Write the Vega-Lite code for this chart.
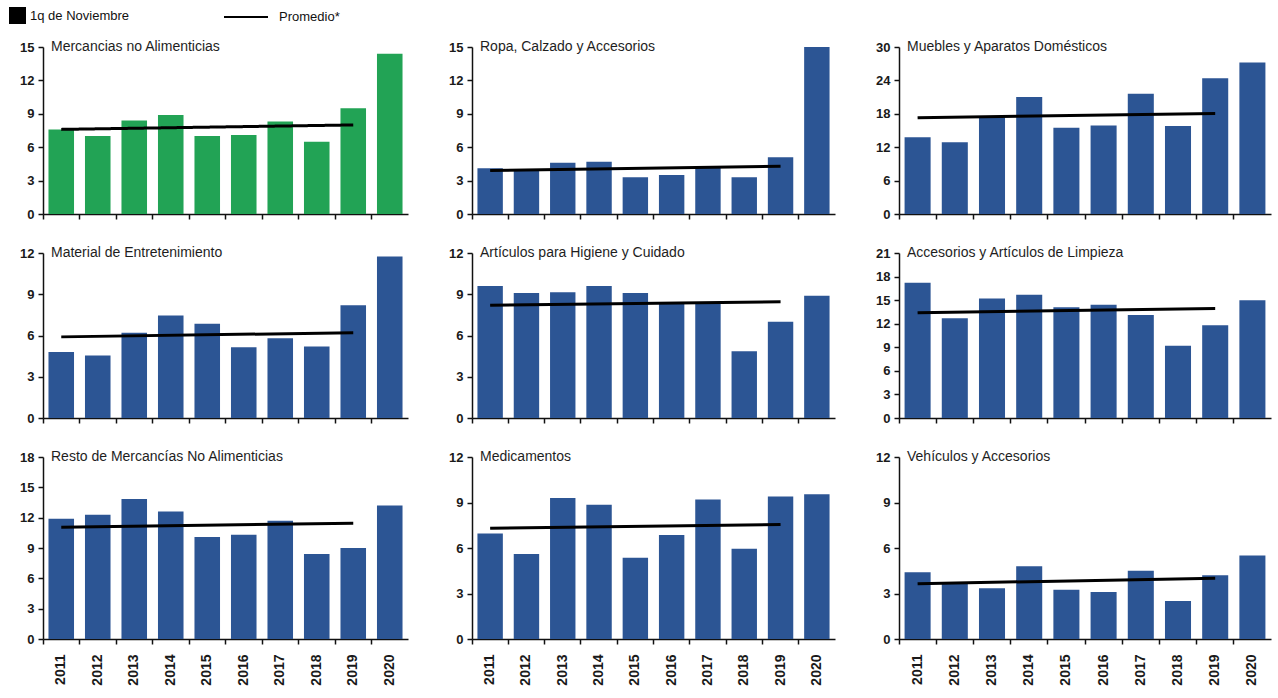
{
  "$schema": "https://vega.github.io/schema/vega-lite/v6.json",
  "padding": {"left": 9, "top": 5, "right": 3, "bottom": 2},
  "background": "white",
  "datasets": {
    "barras": [
      {"panel": "P1", "year": 2011, "value": 7.6}, {"panel": "P1", "year": 2012, "value": 7.0}, {"panel": "P1", "year": 2013, "value": 8.4}, {"panel": "P1", "year": 2014, "value": 8.9}, {"panel": "P1", "year": 2015, "value": 7.0}, {"panel": "P1", "year": 2016, "value": 7.1}, {"panel": "P1", "year": 2017, "value": 8.3}, {"panel": "P1", "year": 2018, "value": 6.5}, {"panel": "P1", "year": 2019, "value": 9.5}, {"panel": "P1", "year": 2020, "value": 14.4},
      {"panel": "P2", "year": 2011, "value": 4.1}, {"panel": "P2", "year": 2012, "value": 4.0}, {"panel": "P2", "year": 2013, "value": 4.6}, {"panel": "P2", "year": 2014, "value": 4.7}, {"panel": "P2", "year": 2015, "value": 3.3}, {"panel": "P2", "year": 2016, "value": 3.5}, {"panel": "P2", "year": 2017, "value": 4.3}, {"panel": "P2", "year": 2018, "value": 3.3}, {"panel": "P2", "year": 2019, "value": 5.1}, {"panel": "P2", "year": 2020, "value": 15.0},
      {"panel": "P3", "year": 2011, "value": 13.8}, {"panel": "P3", "year": 2012, "value": 12.9}, {"panel": "P3", "year": 2013, "value": 17.4}, {"panel": "P3", "year": 2014, "value": 21.0}, {"panel": "P3", "year": 2015, "value": 15.5}, {"panel": "P3", "year": 2016, "value": 15.9}, {"panel": "P3", "year": 2017, "value": 21.6}, {"panel": "P3", "year": 2018, "value": 15.8}, {"panel": "P3", "year": 2019, "value": 24.4}, {"panel": "P3", "year": 2020, "value": 27.2},
      {"panel": "P4", "year": 2011, "value": 4.8}, {"panel": "P4", "year": 2012, "value": 4.55}, {"panel": "P4", "year": 2013, "value": 6.2}, {"panel": "P4", "year": 2014, "value": 7.45}, {"panel": "P4", "year": 2015, "value": 6.85}, {"panel": "P4", "year": 2016, "value": 5.15}, {"panel": "P4", "year": 2017, "value": 5.8}, {"panel": "P4", "year": 2018, "value": 5.2}, {"panel": "P4", "year": 2019, "value": 8.2}, {"panel": "P4", "year": 2020, "value": 11.75},
      {"panel": "P5", "year": 2011, "value": 9.6}, {"panel": "P5", "year": 2012, "value": 9.1}, {"panel": "P5", "year": 2013, "value": 9.15}, {"panel": "P5", "year": 2014, "value": 9.6}, {"panel": "P5", "year": 2015, "value": 9.1}, {"panel": "P5", "year": 2016, "value": 8.35}, {"panel": "P5", "year": 2017, "value": 8.4}, {"panel": "P5", "year": 2018, "value": 4.85}, {"panel": "P5", "year": 2019, "value": 7.0}, {"panel": "P5", "year": 2020, "value": 8.9},
      {"panel": "P6", "year": 2011, "value": 17.2}, {"panel": "P6", "year": 2012, "value": 12.7}, {"panel": "P6", "year": 2013, "value": 15.2}, {"panel": "P6", "year": 2014, "value": 15.7}, {"panel": "P6", "year": 2015, "value": 14.1}, {"panel": "P6", "year": 2016, "value": 14.4}, {"panel": "P6", "year": 2017, "value": 13.1}, {"panel": "P6", "year": 2018, "value": 9.2}, {"panel": "P6", "year": 2019, "value": 11.8}, {"panel": "P6", "year": 2020, "value": 15.0},
      {"panel": "P7", "year": 2011, "value": 11.9}, {"panel": "P7", "year": 2012, "value": 12.3}, {"panel": "P7", "year": 2013, "value": 13.85}, {"panel": "P7", "year": 2014, "value": 12.6}, {"panel": "P7", "year": 2015, "value": 10.1}, {"panel": "P7", "year": 2016, "value": 10.3}, {"panel": "P7", "year": 2017, "value": 11.7}, {"panel": "P7", "year": 2018, "value": 8.4}, {"panel": "P7", "year": 2019, "value": 9.0}, {"panel": "P7", "year": 2020, "value": 13.2},
      {"panel": "P8", "year": 2011, "value": 6.95}, {"panel": "P8", "year": 2012, "value": 5.6}, {"panel": "P8", "year": 2013, "value": 9.3}, {"panel": "P8", "year": 2014, "value": 8.85}, {"panel": "P8", "year": 2015, "value": 5.35}, {"panel": "P8", "year": 2016, "value": 6.85}, {"panel": "P8", "year": 2017, "value": 9.2}, {"panel": "P8", "year": 2018, "value": 5.95}, {"panel": "P8", "year": 2019, "value": 9.4}, {"panel": "P8", "year": 2020, "value": 9.55},
      {"panel": "P9", "year": 2011, "value": 4.4}, {"panel": "P9", "year": 2012, "value": 3.75}, {"panel": "P9", "year": 2013, "value": 3.35}, {"panel": "P9", "year": 2014, "value": 4.8}, {"panel": "P9", "year": 2015, "value": 3.25}, {"panel": "P9", "year": 2016, "value": 3.1}, {"panel": "P9", "year": 2017, "value": 4.5}, {"panel": "P9", "year": 2018, "value": 2.5}, {"panel": "P9", "year": 2019, "value": 4.2}, {"panel": "P9", "year": 2020, "value": 5.5}
    ],
    "promedio": [
      {"panel": "P1", "year": 2011, "value": 7.6}, {"panel": "P1", "year": 2019, "value": 8.0},
      {"panel": "P2", "year": 2011, "value": 3.9}, {"panel": "P2", "year": 2019, "value": 4.3},
      {"panel": "P3", "year": 2011, "value": 17.3}, {"panel": "P3", "year": 2019, "value": 18.05},
      {"panel": "P4", "year": 2011, "value": 5.9}, {"panel": "P4", "year": 2019, "value": 6.2},
      {"panel": "P5", "year": 2011, "value": 8.2}, {"panel": "P5", "year": 2019, "value": 8.45},
      {"panel": "P6", "year": 2011, "value": 13.4}, {"panel": "P6", "year": 2019, "value": 13.95},
      {"panel": "P7", "year": 2011, "value": 11.05}, {"panel": "P7", "year": 2019, "value": 11.45},
      {"panel": "P8", "year": 2011, "value": 7.3}, {"panel": "P8", "year": 2019, "value": 7.55},
      {"panel": "P9", "year": 2011, "value": 3.65}, {"panel": "P9", "year": 2019, "value": 4.0}
    ]
  },
  "columns": 3,
  "align": "each",
  "spacing": {"row": 25, "column": 30},
  "concat": [
    {
      "width": 365, "height": 167,
      "title": {"text": "Mercancias  no Alimenticias"},
      "layer": [
        {"data": {"name": "barras"}, "transform": [{"filter": "datum.panel === 'P1'"}],
         "mark": {"type": "bar", "width": {"band": 0.7}},
         "encoding": {
           "x": {"field": "year", "type": "ordinal", "scale": {"paddingInner": 0, "paddingOuter": 0}, "axis": {"labels": false}},
           "y": {"field": "value", "type": "quantitative", "scale": {"domain": [0, 15], "nice": false}, "axis": {"values": [0, 3, 6, 9, 12, 15], "tickCount": 20, "format": "d"}},
           "color": {"field": "panel", "type": "nominal", "scale": {"range": ["#22a355"]}, "legend": null},
           "opacity": {"datum": "1q de Noviembre", "type": "nominal", "scale": {"range": [1]},
             "legend": {"orient": "none", "legendX": -34, "legendY": -40, "title": null, "symbolType": "square", "symbolFillColor": "#000000", "symbolStrokeColor": "#000000", "symbolStrokeWidth": 0, "symbolOpacity": 1, "symbolSize": 289, "labelFontSize": 13, "labelFont": "Liberation Sans", "labelColor": "#111111", "labelOffset": 4, "padding": 0}}
         }},
        {"data": {"name": "promedio"}, "transform": [{"filter": "datum.panel === 'P1'"}],
         "mark": {"type": "line", "color": "#000000", "strokeWidth": 3},
         "encoding": {
           "x": {"field": "year", "type": "ordinal"},
           "y": {"field": "value", "type": "quantitative"},
           "strokeDash": {"datum": "Promedio*", "type": "nominal", "scale": {"range": [[1, 0]]},
             "legend": {"orient": "none", "legendX": 191, "legendY": -42, "title": null, "symbolType": "M-2,0H2", "symbolStrokeColor": "#000000", "symbolStrokeWidth": 2, "symbolSize": 484, "labelFontSize": 13, "labelFont": "Liberation Sans", "labelColor": "#111111", "labelOffset": 21, "padding": 0}}
         }}
      ]
    },
    {
      "width": 363, "height": 167,
      "title": {"text": "Ropa, Calzado y Accesorios"},
      "layer": [
        {"data": {"name": "barras"}, "transform": [{"filter": "datum.panel === 'P2'"}],
         "mark": {"type": "bar", "width": {"band": 0.7}, "color": "#2c5594"},
         "encoding": {
           "x": {"field": "year", "type": "ordinal", "scale": {"paddingInner": 0, "paddingOuter": 0}, "axis": {"labels": false}},
           "y": {"field": "value", "type": "quantitative", "scale": {"domain": [0, 15], "nice": false}, "axis": {"values": [0, 3, 6, 9, 12, 15], "tickCount": 20, "format": "d"}}
         }},
        {"data": {"name": "promedio"}, "transform": [{"filter": "datum.panel === 'P2'"}],
         "mark": {"type": "line", "color": "#000000", "strokeWidth": 3},
         "encoding": {"x": {"field": "year", "type": "ordinal"}, "y": {"field": "value", "type": "quantitative"}}}
      ]
    },
    {
      "width": 372, "height": 167,
      "title": {"text": "Muebles y Aparatos  Domésticos"},
      "layer": [
        {"data": {"name": "barras"}, "transform": [{"filter": "datum.panel === 'P3'"}],
         "mark": {"type": "bar", "width": {"band": 0.7}, "color": "#2c5594"},
         "encoding": {
           "x": {"field": "year", "type": "ordinal", "scale": {"paddingInner": 0, "paddingOuter": 0}, "axis": {"labels": false}},
           "y": {"field": "value", "type": "quantitative", "scale": {"domain": [0, 30], "nice": false}, "axis": {"values": [0, 6, 12, 18, 24, 30], "tickCount": 20, "format": "d"}}
         }},
        {"data": {"name": "promedio"}, "transform": [{"filter": "datum.panel === 'P3'"}],
         "mark": {"type": "line", "color": "#000000", "strokeWidth": 3},
         "encoding": {"x": {"field": "year", "type": "ordinal"}, "y": {"field": "value", "type": "quantitative"}}}
      ]
    },
    {
      "width": 365, "height": 165,
      "title": {"text": "Material  de Entretenimiento"},
      "layer": [
        {"data": {"name": "barras"}, "transform": [{"filter": "datum.panel === 'P4'"}],
         "mark": {"type": "bar", "width": {"band": 0.7}, "color": "#2c5594"},
         "encoding": {
           "x": {"field": "year", "type": "ordinal", "scale": {"paddingInner": 0, "paddingOuter": 0}, "axis": {"labels": false}},
           "y": {"field": "value", "type": "quantitative", "scale": {"domain": [0, 12], "nice": false}, "axis": {"values": [0, 3, 6, 9, 12], "tickCount": 20, "format": "d"}}
         }},
        {"data": {"name": "promedio"}, "transform": [{"filter": "datum.panel === 'P4'"}],
         "mark": {"type": "line", "color": "#000000", "strokeWidth": 3},
         "encoding": {"x": {"field": "year", "type": "ordinal"}, "y": {"field": "value", "type": "quantitative"}}}
      ]
    },
    {
      "width": 363, "height": 165,
      "title": {"text": "Artículos para Higiene y Cuidado"},
      "layer": [
        {"data": {"name": "barras"}, "transform": [{"filter": "datum.panel === 'P5'"}],
         "mark": {"type": "bar", "width": {"band": 0.7}, "color": "#2c5594"},
         "encoding": {
           "x": {"field": "year", "type": "ordinal", "scale": {"paddingInner": 0, "paddingOuter": 0}, "axis": {"labels": false}},
           "y": {"field": "value", "type": "quantitative", "scale": {"domain": [0, 12], "nice": false}, "axis": {"values": [0, 3, 6, 9, 12], "tickCount": 20, "format": "d"}}
         }},
        {"data": {"name": "promedio"}, "transform": [{"filter": "datum.panel === 'P5'"}],
         "mark": {"type": "line", "color": "#000000", "strokeWidth": 3},
         "encoding": {"x": {"field": "year", "type": "ordinal"}, "y": {"field": "value", "type": "quantitative"}}}
      ]
    },
    {
      "width": 372, "height": 165,
      "title": {"text": "Accesorios  y Artículos  de Limpieza"},
      "layer": [
        {"data": {"name": "barras"}, "transform": [{"filter": "datum.panel === 'P6'"}],
         "mark": {"type": "bar", "width": {"band": 0.7}, "color": "#2c5594"},
         "encoding": {
           "x": {"field": "year", "type": "ordinal", "scale": {"paddingInner": 0, "paddingOuter": 0}, "axis": {"labels": false}},
           "y": {"field": "value", "type": "quantitative", "scale": {"domain": [0, 21], "nice": false}, "axis": {"values": [0, 3, 6, 9, 12, 15, 18, 21], "tickCount": 20, "format": "d"}}
         }},
        {"data": {"name": "promedio"}, "transform": [{"filter": "datum.panel === 'P6'"}],
         "mark": {"type": "line", "color": "#000000", "strokeWidth": 3},
         "encoding": {"x": {"field": "year", "type": "ordinal"}, "y": {"field": "value", "type": "quantitative"}}}
      ]
    },
    {
      "width": 365, "height": 182,
      "title": {"text": "Resto de Mercancías  No Alimenticias"},
      "layer": [
        {"data": {"name": "barras"}, "transform": [{"filter": "datum.panel === 'P7'"}],
         "mark": {"type": "bar", "width": {"band": 0.7}, "color": "#2c5594"},
         "encoding": {
           "x": {"field": "year", "type": "ordinal", "scale": {"paddingInner": 0, "paddingOuter": 0}, "axis": {"labelAngle": -90, "labelAlign": "right", "labelBaseline": "middle", "labelPadding": 10, "labelFontSize": 14}},
           "y": {"field": "value", "type": "quantitative", "scale": {"domain": [0, 18], "nice": false}, "axis": {"values": [0, 3, 6, 9, 12, 15, 18], "tickCount": 20, "format": "d"}}
         }},
        {"data": {"name": "promedio"}, "transform": [{"filter": "datum.panel === 'P7'"}],
         "mark": {"type": "line", "color": "#000000", "strokeWidth": 3},
         "encoding": {"x": {"field": "year", "type": "ordinal"}, "y": {"field": "value", "type": "quantitative"}}}
      ]
    },
    {
      "width": 363, "height": 182,
      "title": {"text": "Medicamentos"},
      "layer": [
        {"data": {"name": "barras"}, "transform": [{"filter": "datum.panel === 'P8'"}],
         "mark": {"type": "bar", "width": {"band": 0.7}, "color": "#2c5594"},
         "encoding": {
           "x": {"field": "year", "type": "ordinal", "scale": {"paddingInner": 0, "paddingOuter": 0}, "axis": {"labelAngle": -90, "labelAlign": "right", "labelBaseline": "middle", "labelPadding": 10, "labelFontSize": 14}},
           "y": {"field": "value", "type": "quantitative", "scale": {"domain": [0, 12], "nice": false}, "axis": {"values": [0, 3, 6, 9, 12], "tickCount": 20, "format": "d"}}
         }},
        {"data": {"name": "promedio"}, "transform": [{"filter": "datum.panel === 'P8'"}],
         "mark": {"type": "line", "color": "#000000", "strokeWidth": 3},
         "encoding": {"x": {"field": "year", "type": "ordinal"}, "y": {"field": "value", "type": "quantitative"}}}
      ]
    },
    {
      "width": 372, "height": 182,
      "title": {"text": "Vehículos  y Accesorios"},
      "layer": [
        {"data": {"name": "barras"}, "transform": [{"filter": "datum.panel === 'P9'"}],
         "mark": {"type": "bar", "width": {"band": 0.7}, "color": "#2c5594"},
         "encoding": {
           "x": {"field": "year", "type": "ordinal", "scale": {"paddingInner": 0, "paddingOuter": 0}, "axis": {"labelAngle": -90, "labelAlign": "right", "labelBaseline": "middle", "labelPadding": 10, "labelFontSize": 14}},
           "y": {"field": "value", "type": "quantitative", "scale": {"domain": [0, 12], "nice": false}, "axis": {"values": [0, 3, 6, 9, 12], "tickCount": 20, "format": "d"}}
         }},
        {"data": {"name": "promedio"}, "transform": [{"filter": "datum.panel === 'P9'"}],
         "mark": {"type": "line", "color": "#000000", "strokeWidth": 3},
         "encoding": {"x": {"field": "year", "type": "ordinal"}, "y": {"field": "value", "type": "quantitative"}}}
      ]
    }
  ],
  "config": {
    "view": {"stroke": null},
    "font": "Liberation Sans",
    "title": {"anchor": "start", "frame": "group", "orient": "top", "offset": -13, "baseline": "alphabetic", "fontSize": 14, "fontWeight": "normal", "font": "Liberation Sans", "color": "#1e1e1e", "dx": 8},
    "axis": {"grid": false, "title": null, "domainColor": "#111111", "domainWidth": 1.5, "tickColor": "#111111", "tickWidth": 1.5, "tickSize": 5, "labelFont": "Liberation Sans", "labelFontSize": 13, "labelFontWeight": "bold", "labelColor": "#1a1a1a", "labelOverlap": false},
    "axisX": {"bandPosition": 0},
    "axisY": {"minExtent": 34, "maxExtent": 34, "labelPadding": 4}
  }
}
